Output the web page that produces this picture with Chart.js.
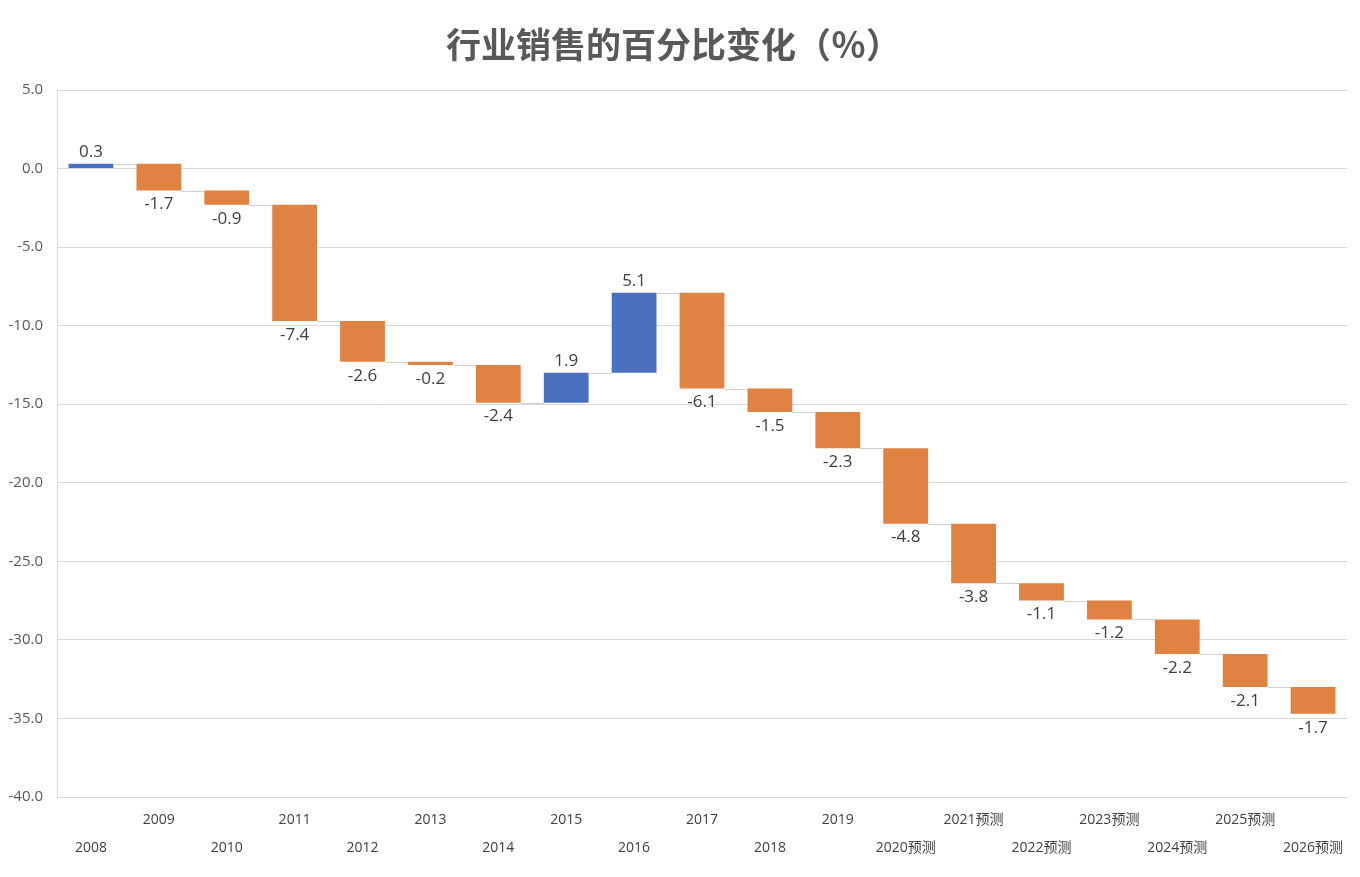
<!DOCTYPE html>
<html>
<head>
<meta charset="utf-8" />
<script src="https://cdn.jsdelivr.net/npm/chart.js@4/dist/chart.umd.min.js"></script>
<style>
  html, body { margin: 0; padding: 0; background: #fff; }
  #wrap { width: 1360px; height: 877px; }
</style>
</head>
<body>
<div id="wrap"><canvas id="canvas"></canvas></div>
<script>
  var categories = ["2008", "2009", "2010", "2011", "2012", "2013", "2014", "2015", "2016", "2017", "2018", "2019",
    "2020预测", "2021预测", "2022预测", "2023预测", "2024预测", "2025预测", "2026预测"];
  var changes = [0.3, -1.7, -0.9, -7.4, -2.6, -0.2, -2.4, 1.9, 5.1, -6.1, -1.5, -2.3, -4.8, -3.8, -1.1, -1.2, -2.2, -2.1, -1.7];
  var yTicks = [5, 0, -5, -10, -15, -20, -25, -30, -35, -40];

  var UP = "#4A71C0";
  var DOWN = "#E08242";

  // running totals give the floating bar ends
  var ends = [];
  var floats = [];
  var total = 0;
  changes.forEach(function (v) {
    var start = total;
    total = Math.round((total + v) * 10) / 10;
    ends.push(total);
    floats.push([start, total]);
  });

  var waterfallExtras = {
    id: "waterfallExtras",
    afterDatasetsDraw: function (chart) {
      var ctx = chart.ctx;
      var yScale = chart.scales.y;
      var bars = chart.getDatasetMeta(0).data;

      // connectors between bars
      ctx.save();
      ctx.strokeStyle = "#d0d0d0";
      ctx.lineWidth = 1;
      for (var i = 0; i < bars.length - 1; i++) {
        var y = Math.round(yScale.getPixelForValue(ends[i])) + 0.5;
        ctx.beginPath();
        ctx.moveTo(bars[i].x + bars[i].width / 2, y);
        ctx.lineTo(bars[i + 1].x - bars[i + 1].width / 2, y);
        ctx.stroke();
      }

      // value labels
      ctx.fillStyle = "#404040";
      ctx.font = "17px 'Open Sans', 'Noto Sans', sans-serif";
      ctx.textAlign = "center";
      ctx.textBaseline = "middle";
      bars.forEach(function (bar, idx) {
        var v = changes[idx];
        var f = floats[idx];
        var label = v.toFixed(1);
        if (v >= 0) {
          ctx.fillText(label, bar.x, yScale.getPixelForValue(Math.max(f[0], f[1])) - 12);
        } else {
          ctx.fillText(label, bar.x, yScale.getPixelForValue(Math.min(f[0], f[1])) + 14);
        }
      });
      ctx.restore();
    },
  };

  new Chart(document.getElementById("canvas"), {
    type: "bar",
    data: {
      labels: categories,
      datasets: [
        {
          data: floats,
          backgroundColor: changes.map(function (v) { return v >= 0 ? UP : DOWN; }),
          borderWidth: 0,
          barPercentage: 0.66,
          categoryPercentage: 1.0,
        },
      ],
    },
    options: {
      responsive: true,
      maintainAspectRatio: false,
      animation: false,
      layout: { padding: { left: 0, right: 13, top: 0, bottom: 6 } },
      plugins: {
        legend: { display: false },
        tooltip: { enabled: false },
        title: {
          display: true,
          text: "行业销售的百分比变化（％）",
          color: "#595959",
          font: { family: "'Noto Sans CJK SC', sans-serif", size: 35, weight: "bold" },
          padding: { top: 24, bottom: 24 },
        },
      },
      scales: {
        x: {
          grid: { display: false, drawTicks: false },
          border: { display: false },
          ticks: {
            autoSkip: false,
            maxRotation: 0,
            minRotation: 0,
            padding: 9,
            color: "#404040",
            font: { family: "'Open Sans', 'Noto Sans CJK SC', sans-serif", size: 14, lineHeight: 2 },
            callback: function (val, idx) {
              var name = categories[idx];
              return idx % 2 === 1 ? [name, ""] : ["", name];
            },
          },
        },
        y: {
          min: -40,
          max: 5,
          afterBuildTicks: function (axis) {
            axis.ticks = yTicks.map(function (v) { return { value: v }; });
          },
          afterFit: function (axis) {
            axis.width = 57;
          },
          grid: { color: "#d9d9d9", drawTicks: false },
          border: { display: true, color: "#d9d9d9" },
          ticks: {
            padding: 14,
            color: "#595959",
            font: { family: "'Open Sans', 'Noto Sans', sans-serif", size: 15 },
            callback: function (v) { return v.toFixed(1); },
          },
        },
      },
    },
    plugins: [waterfallExtras],
  });
</script>
</body>
</html>
